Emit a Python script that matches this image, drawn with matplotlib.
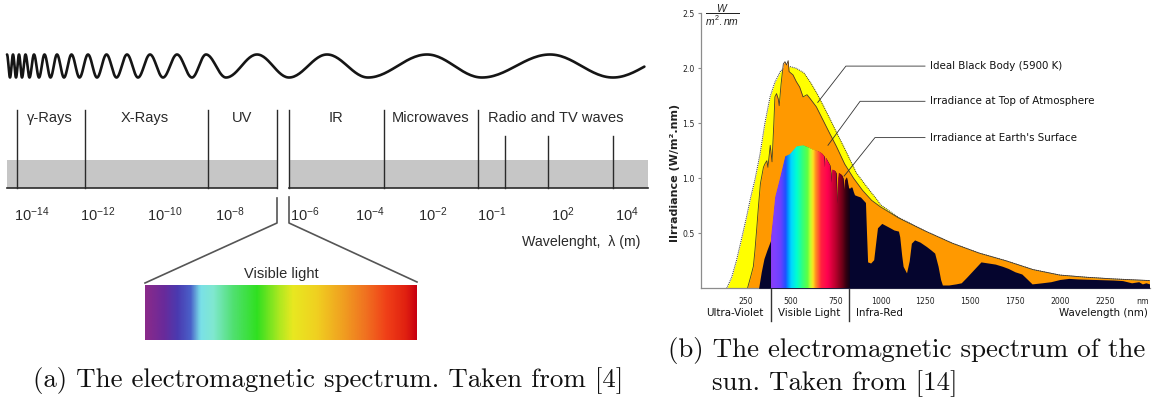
import numpy as np
import matplotlib
matplotlib.use("Agg")
import matplotlib.pyplot as plt
from matplotlib.colors import LinearSegmentedColormap
from matplotlib.patches import Rectangle
from matplotlib.transforms import blended_transform_factory

plt.rcParams["mathtext.fontset"] = "custom"
plt.rcParams["mathtext.rm"] = "Liberation Sans"
plt.rcParams["mathtext.it"] = "Liberation Sans:italic"

W, H = 1153, 405

# ---------------- (a) electromagnetic spectrum sketch (sketch units = px) ----------------
band_names = ["γ-Rays", "X-Rays", "UV", "IR", "Microwaves", "Radio and TV waves"]
band_label_x = [50, 145, 242, 336, 431, 556]
band_dividers = [17, 85, 208, 277, 289, 384, 478]
radio_dividers = [505, 548, 613]
decade_labels = ["-14", "-12", "-10", "-8", "-6", "-4", "-2", "-1", "2", "4"]
decade_x = [32, 98, 165, 230, 305, 370, 433, 492, 563, 627]

# crest / trough positions of the wave, alternating, starting with a crest
wave_x = [7, 10, 13, 16, 19, 22, 25.5, 29.5, 34, 39, 44.5, 50.5, 57, 64, 71.5, 79.5,
          88, 97, 106.5, 116.5, 127, 138, 150, 163, 177, 192, 206, 226, 257, 289,
          327, 368, 427, 482, 550, 613, 678]

# colour stops of the visible-light bar
bar_x = [145, 163, 177, 190, 200, 213, 233, 257, 280, 293, 317, 343, 367, 387, 407, 417]
bar_colors = ["#8a2a8a", "#6a2a9a", "#4a3ab0", "#4a60c8", "#7ae0e8", "#80e8d0", "#50e070",
              "#30e020", "#b0e820", "#e8e820", "#f0d020", "#f0a020", "#f07020", "#f04018",
              "#e02010", "#c80010"]

# ---------------- (b) solar spectrum ----------------
bb_wl = [142, 170, 197, 225, 253, 275, 300, 328, 355, 384, 410, 441, 470, 497, 530, 572,
         610, 646, 684, 721, 760, 800, 865, 920, 983, 1000, 1100, 1250, 1400, 1550, 1700,
         1850, 2000, 2150, 2300, 2500]
bb_val = [0, 0.1, 0.255, 0.45, 0.65, 0.82, 0.99, 1.22, 1.5, 1.74, 1.87, 1.97, 2.01, 2.015,
          2.0, 1.96, 1.87, 1.77, 1.65, 1.53, 1.40, 1.27, 1.05, 0.93, 0.80, 0.76, 0.645,
          0.52, 0.41, 0.32, 0.25, 0.17, 0.12, 0.10, 0.085, 0.07]

toa_wl = [258, 275, 291, 300, 310, 319, 330, 347, 355, 366, 372, 385, 395, 405, 411, 420,
          430, 435, 445, 458, 467, 476, 485, 490, 512, 530, 549, 568, 590, 605, 642, 679,
          716, 754, 800, 850, 900, 950, 1000, 1100, 1250, 1400, 1550, 1700, 1850, 2000,
          2150, 2300, 2500]
toa_val = [0, 0.1, 0.2, 0.35, 0.55, 0.74, 0.95, 1.1, 1.13, 1.16, 1.1, 1.3, 1.15, 1.5, 1.74,
           1.77, 1.72, 1.66, 1.85, 2.04, 2.06, 2.03, 2.07, 1.97, 1.94, 1.88, 1.83, 1.74,
           1.76, 1.73, 1.65, 1.53, 1.41, 1.29, 1.13, 1.0, 0.89, 0.8, 0.74, 0.64, 0.52,
           0.41, 0.32, 0.25, 0.17, 0.12, 0.10, 0.085, 0.07]

surf_wl = [320, 335, 350, 367, 388, 400, 413, 441, 469, 495, 532, 570, 600, 625, 650, 671,
           687, 690, 694, 718, 724, 727, 731, 745, 753, 760, 764, 768, 784, 792, 797, 802,
           811, 816, 823, 833, 841, 848, 855, 870, 888, 916, 922, 928, 945, 962, 972, 983,
           1007, 1030, 1053, 1075, 1100, 1107, 1118, 1126, 1145, 1160, 1172, 1190, 1220,
           1256, 1280, 1302, 1321, 1335, 1345, 1380, 1420, 1450, 1480, 1520, 1560, 1600,
           1640, 1680, 1713, 1750, 1788, 1820, 1845, 1900, 1950, 2000, 2050, 2100, 2200,
           2300, 2350, 2400, 2440, 2460, 2480, 2500]
surf_val = [0, 0.15, 0.27, 0.35, 0.44, 0.62, 0.83, 1.01, 1.2, 1.22, 1.29, 1.30, 1.28, 1.26,
            1.25, 1.23, 1.2, 1.10, 1.19, 1.12, 1.05, 0.96, 1.08, 1.07, 1.05, 0.77, 1.0,
            1.05, 1.03, 1.0, 0.89, 0.98, 1.01, 0.97, 0.90, 0.92, 0.92, 0.88, 0.85, 0.84,
            0.83, 0.78, 0.5, 0.24, 0.23, 0.26, 0.4, 0.55, 0.59, 0.57, 0.55, 0.53, 0.52,
            0.47, 0.3, 0.2, 0.14, 0.25, 0.41, 0.44, 0.42, 0.38, 0.35, 0.32, 0.2, 0.08,
            0.03, 0.03, 0.04, 0.05, 0.1, 0.17, 0.24, 0.23, 0.22, 0.2, 0.18, 0.15, 0.13,
            0.08, 0.04, 0.05, 0.06, 0.08, 0.09, 0.085, 0.08, 0.075, 0.07, 0.05, 0.06,
            0.04, 0.05, 0.04]

spec_wl = [388, 405, 440, 468, 480, 500, 530, 560, 590, 605, 620, 635, 665, 700, 740, 780,
           805, 823]
spec_colors = ["#8a3cf0", "#8040ff", "#6a40ff", "#2050ff", "#0090ff", "#00d8ff", "#00ffd0",
               "#30ff80", "#60ff40", "#c0ff30", "#ffe020", "#ff9020", "#ff2040", "#ff0050",
               "#c00030", "#700018", "#300010", "#100018"]

x_ticks = [250, 500, 750, 1000, 1250, 1500, 1750, 2000, 2250]
y_ticks = [0.5, 1.0, 1.5, 2.0, 2.5]

fig = plt.figure(figsize=(W / 100, H / 100), dpi=100)

# ======== panel (a) ========
axa = fig.add_axes([0, 0, 660 / W, 1])
axa.axis("off")
ink = "#2a2a2a"

# wave
CREST, TROUGH = 54.5, 77.5
xs, ys = [], []
for i in range(len(wave_x) - 1):
    t = np.linspace(0, 1, 30)
    y0, y1 = (CREST, TROUGH) if i % 2 == 0 else (TROUGH, CREST)
    xs.append(wave_x[i] + (wave_x[i + 1] - wave_x[i]) * t)
    ys.append(y0 + (y1 - y0) * (1 - np.cos(np.pi * t)) / 2)
wx = np.concatenate(xs)
wy = np.concatenate(ys)
keep = wx <= 645
axa.plot(wx[keep], wy[keep], color="#151515", lw=1.9, solid_capstyle="round")

# grey band with the two baselines
axa.add_patch(Rectangle((7, 160), 270, 28.3, color="#c6c6c6", lw=0))
axa.add_patch(Rectangle((289, 160), 359, 28.3, color="#c6c6c6", lw=0))
axa.plot([7, 277], [188.3, 188.3], color=ink, lw=1.2)
axa.plot([289, 648], [188.3, 188.3], color=ink, lw=1.2)
for x in band_dividers:
    axa.plot([x, x], [110, 188.3], color=ink, lw=1.0)
for x in radio_dividers:
    axa.plot([x, x], [136, 188.3], color=ink, lw=1.0)
for name, x in zip(band_names, band_label_x):
    axa.text(x, 118, name, ha="center", va="center", fontsize=10.5,
             family="Liberation Sans", color=ink)
for lab, x in zip(decade_labels, decade_x):
    axa.text(x, 215, "$10^{" + lab + "}$", ha="center", va="center", fontsize=10.5,
             color=ink)
axa.text(640, 242, "Wavelenght,  λ (m)", ha="right", va="center", fontsize=10.2,
         family="Liberation Sans", color=ink)

# zoom into visible light
axa.plot([277, 277, 145], [198, 223, 283], color="#555555", lw=1.2)
axa.plot([289, 289, 417], [197, 223, 282], color="#555555", lw=1.2)
axa.text(281, 274, "Visible light", ha="center", va="center", fontsize=10.5,
         family="Liberation Sans", color=ink)
bar_cmap = LinearSegmentedColormap.from_list(
    "bar", [((x - bar_x[0]) / (bar_x[-1] - bar_x[0]), c) for x, c in zip(bar_x, bar_colors)])
axa.imshow(np.linspace(0, 1, 400).reshape(1, -1), cmap=bar_cmap, aspect="auto",
           extent=(bar_x[0], bar_x[-1], 340, 285), interpolation="bilinear")
axa.set_xlim(0, 660)
axa.set_ylim(H, 0)

# ======== panel (b) ========
axb = fig.add_axes([701.2 / W, 1 - 288.3 / H, 448.3 / W, 275 / H])
axb.fill_between(bb_wl, bb_val, color="#ffff00", lw=0, zorder=1)
axb.plot(bb_wl, bb_val, color="#333333", lw=0.7, ls=(0, (1, 1)), zorder=1.5)
axb.fill_between(toa_wl, toa_val, color="#ff9900", lw=0, zorder=2)
axb.plot(toa_wl, toa_val, color="#4a3a2a", lw=0.6, zorder=2.5)
surf = axb.fill_between(surf_wl, surf_val, color="#05052e", lw=0, zorder=3)
spec_cmap = LinearSegmentedColormap.from_list(
    "spec", [((w - spec_wl[0]) / (spec_wl[-1] - spec_wl[0]), c) for w, c in zip(spec_wl, spec_colors)])
im = axb.imshow(np.linspace(0, 1, 500).reshape(1, -1), cmap=spec_cmap, aspect="auto",
                extent=(spec_wl[0], spec_wl[-1], 0, 1.45), zorder=4, interpolation="bilinear")
im.set_clip_path(surf.get_paths()[0], transform=axb.transData)

axb.set_xlim(0, 2500)
axb.set_ylim(0, 2.5)
for s in ["top", "right"]:
    axb.spines[s].set_visible(False)
for s in ["left", "bottom"]:
    axb.spines[s].set_color("#8c8c8c")
    axb.spines[s].set_linewidth(0.9)
axb.set_xticks(x_ticks + [2464])
axb.set_xticklabels([str(t) for t in x_ticks] + ["nm"])
axb.set_yticks(y_ticks)
axb.set_yticklabels(["%.1f" % v for v in y_ticks])
axb.tick_params(axis="x", length=0, pad=6, labelsize=5.6, labelcolor="#222222")
axb.tick_params(axis="y", length=2.5, width=0.8, color="#8c8c8c", pad=2,
                labelsize=5.6, labelcolor="#222222")

trans = blended_transform_factory(axb.transData, axb.transAxes)
for w in [388, 823]:
    axb.plot([w, w], [0, -0.12], color="#333333", lw=1.0, transform=trans, clip_on=False)
lab_kw = dict(transform=trans, va="center", fontsize=7.4, color="#111111")
axb.text(188, -0.091, "Ultra-Violet", ha="center", **lab_kw)
axb.text(600, -0.091, "Visible Light", ha="center", **lab_kw)
axb.text(862, -0.091, "Infra-Red", ha="left", **lab_kw)
axb.text(2490, -0.091, "Wavelength (nm)", ha="right", **lab_kw)

# leader lines and annotations
lead = "#333333"
axb.plot([1248, 807, 650], [2.02, 2.02, 1.69], color=lead, lw=0.6, zorder=6)
axb.plot([1248, 886, 707], [1.70, 1.70, 1.30], color=lead, lw=0.6, zorder=6)
axb.plot([1248, 969, 797], [1.37, 1.37, 1.02], color=lead, lw=0.6, zorder=6)
ann_kw = dict(ha="left", va="center", fontsize=7.4, color="#111111")
axb.text(1275, 2.02, "Ideal Black Body (5900 K)", **ann_kw)
axb.text(1275, 1.70, "Irradiance at Top of Atmosphere", **ann_kw)
axb.text(1275, 1.37, "Irradiance at Earth's Surface", **ann_kw)

fig.text(675 / W, 1 - 173 / H, "IIrradiance (W/m².nm)", rotation=90, ha="center",
         va="center", fontsize=8, fontweight="bold", color="#222222")
fig.text(722 / W, 1 - 15 / H, r"$\dfrac{W}{m^2.nm}$", ha="center", va="center",
         fontsize=7.5, color="#222222")

# captions
cap_kw = dict(family="cmr10", fontsize=19.4, color="#111111", va="center")
fig.text(33 / W, 1 - 381 / H, "(a) The electromagnetic spectrum. Taken from [4]", ha="left", **cap_kw)
fig.text(668 / W, 1 - 351 / H, "(b) The electromagnetic spectrum of the", ha="left", **cap_kw)
fig.text(712 / W, 1 - 384 / H, "sun. Taken from [14]", ha="left", **cap_kw)

fig.savefig("out.png", dpi=100)
